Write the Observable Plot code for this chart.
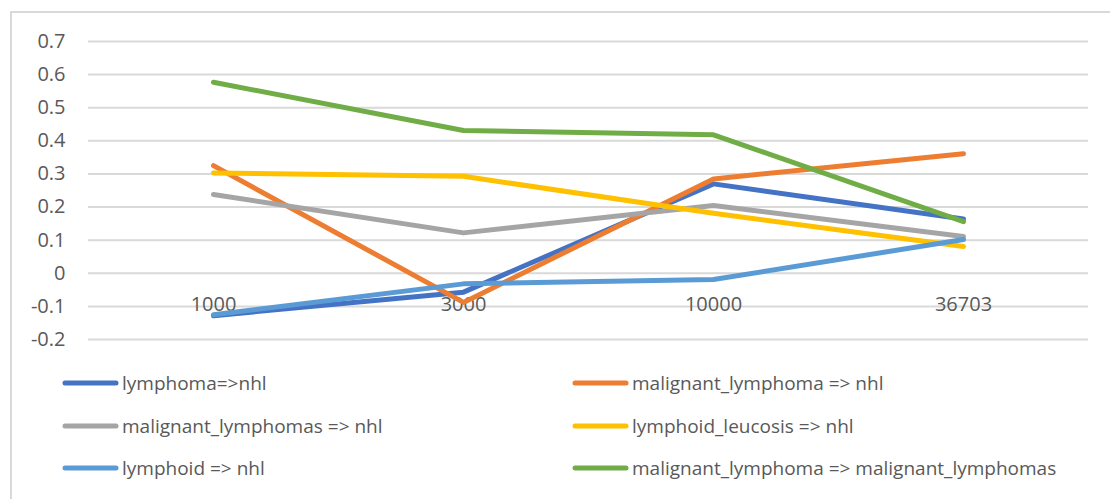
<!DOCTYPE html>
<html>
<head>
<meta charset="utf-8">
<script src="https://cdn.jsdelivr.net/npm/d3@7"></script>
<script src="https://cdn.jsdelivr.net/npm/@observablehq/plot@0.6"></script>
<style>
  html, body { margin: 0; padding: 0; background: #fff; overflow: hidden; }
  body { width: 1110px; height: 499px; position: relative; font-family: "Open Sans", sans-serif; }
  #frame { position: absolute; left: 10px; top: 11px; width: 1200px; height: 600px; border: 2px solid #d9d9d9; box-sizing: border-box; }
  #chart { position: absolute; left: 0; top: 0; }
  #legend { position: absolute; left: 0; top: 0; width: 1110px; }
  .item { position: absolute; display: flex; align-items: center; color: #595959; font-size: 19px; white-space: nowrap; }
  .item svg { margin-right: 3px; }
</style>
</head>
<body>
<div id="frame"></div>
<div id="chart"></div>
<div id="legend"></div>
<script>
const categories = ["1000", "3000", "10000", "36703"];
const seriesNames = [
  "lymphoma=>nhl",
  "malignant_lymphoma => nhl",
  "malignant_lymphomas => nhl",
  "lymphoid_leucosis => nhl",
  "lymphoid => nhl",
  "malignant_lymphoma => malignant_lymphomas"
];
const colors = ["#4472C4", "#ED7D31", "#A5A5A5", "#FFC000", "#5B9BD5", "#70AD47"];
const lymphomaNhl = [-0.128, -0.057, 0.270, 0.164];
const malignantLymphomaNhl = [0.325, -0.088, 0.285, 0.361];
const malignantLymphomasNhl = [0.238, 0.122, 0.205, 0.111];
const lymphoidLeucosisNhl = [0.303, 0.293, 0.181, 0.081];
const lymphoidNhl = [-0.125, -0.032, -0.019, 0.102];
const malignantLymphomaLymphomas = [0.577, 0.431, 0.418, 0.156];
const yTicks = [-0.2, -0.1, 0, 0.1, 0.2, 0.3, 0.4, 0.5, 0.6, 0.7];

const seriesValues = [lymphomaNhl, malignantLymphomaNhl, malignantLymphomasNhl, lymphoidLeucosisNhl, lymphoidNhl, malignantLymphomaLymphomas];
const data = seriesNames.flatMap((s, i) => categories.map((c, j) => ({series: s, cat: c, value: seriesValues[i][j]})));

const chart = Plot.plot({
  width: 1110,
  height: 360,
  marginLeft: 88,
  marginRight: 22,
  marginTop: 41,
  marginBottom: 21,
  style: {fontFamily: "Open Sans, sans-serif", fontSize: "20px", color: "#595959", background: "transparent"},
  x: {type: "point", domain: categories, padding: 0.5, axis: null, label: null},
  y: {domain: [-0.2, 0.7], axis: null, label: null},
  color: {domain: seriesNames, range: colors},
  marks: [
    Plot.gridY(yTicks, {stroke: "#d9d9d9", strokeOpacity: 1, strokeWidth: 2}),
    Plot.axisY(yTicks, {tickSize: 0, tickPadding: 23, label: null, tickFormat: d => String(+d.toFixed(1)), fontSize: 20, fill: "#595959"}),
    Plot.text(categories, {x: d => d, y: () => 0, dy: 31, text: d => d, fontSize: 20, fill: "#595959"}),
    Plot.line(data, {x: "cat", y: "value", z: "series", stroke: "series", strokeWidth: 5, strokeLinejoin: "round", strokeLinecap: "round"})
  ]
});
document.getElementById("chart").appendChild(chart);

const legend = document.getElementById("legend");
const leftX = 62, rightX = 572, rowY = [383, 426, 468];
seriesNames.forEach((s, i) => {
  const col = i % 2, row = Math.floor(i / 2);
  const div = document.createElement("div");
  div.className = "item";
  div.style.left = (col ? rightX : leftX) + "px";
  div.style.top = (rowY[row] - 14) + "px";
  div.style.height = "28px";
  div.innerHTML = `<svg width="57" height="8"><line x1="3" y1="4" x2="54" y2="4" stroke="${colors[i]}" stroke-width="5" stroke-linecap="round"/></svg><span>${s}</span>`;
  legend.appendChild(div);
});
</script>
</body>
</html>
